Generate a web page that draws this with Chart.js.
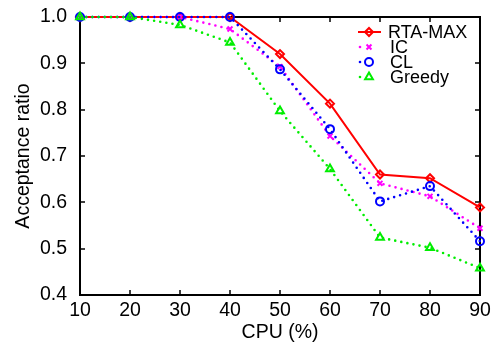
<!DOCTYPE html>
<html>
<head>
<meta charset="utf-8">
<script src="https://cdn.jsdelivr.net/npm/chart.js@4.4.1/dist/chart.umd.min.js"></script>
<style>
  html, body { margin: 0; padding: 0; background: #fff; }
</style>
</head>
<body>
<canvas id="grafico" width="492" height="345"></canvas>
<script>
// valores
const cpu = [10, 20, 30, 40, 50, 60, 70, 80, 90];
const rtaMax = [1.0, 1.0, 1.0, 1.0, 0.92, 0.813, 0.66, 0.652, 0.589];
const ic = [1.0, 1.0, 1.0, 0.974, 0.893, 0.743, 0.641, 0.613, 0.544];
const cl = [1.0, 1.0, 1.0, 1.0, 0.887, 0.758, 0.602, 0.635, 0.516];
const greedy = [1.0, 1.0, 0.983, 0.945, 0.797, 0.672, 0.524, 0.502, 0.458];
const nomes = ['RTA-MAX', 'IC', 'CL', 'Greedy'];

const fonte = "'Liberation Sans', Arial, sans-serif";

function pontos(valores) {
    return cpu.map((c, i) => ({ x: c, y: valores[i] }));
}

function serie(label, valores, cor, estilo, raio, pontilhado, ordem) {
    return {
        label: label,
        data: pontos(valores),
        borderColor: cor,
        backgroundColor: 'rgba(0,0,0,0)',
        pointBackgroundColor: 'rgba(0,0,0,0)',
        pointBorderColor: cor,
        pointStyle: estilo,
        pointRadius: raio,
        pointBorderWidth: 2,
        borderWidth: pontilhado ? 2.6 : 2,
        borderDash: pontilhado ? [0, 6.2] : [],
        borderCapStyle: pontilhado ? 'round' : 'butt',
        tension: 0,
        clip: false,
        order: ordem
    };
}

// moldura com marcas para dentro (estilo matlab)
const moldura = {
    id: 'moldura',
    beforeDatasetsDraw(chart) {
        const ctx = chart.ctx;
        const a = chart.chartArea;
        const x = chart.scales.x;
        const y = chart.scales.y;
        ctx.save();
        ctx.strokeStyle = '#000';
        ctx.lineWidth = 2;
        ctx.beginPath();
        ctx.moveTo(a.left, a.top);
        ctx.lineTo(a.right, a.top);
        ctx.lineTo(a.right, a.bottom);
        ctx.stroke();
        ctx.lineWidth = 1.5;
        ctx.beginPath();
        x.ticks.forEach(t => {
            const px = Math.round(x.getPixelForValue(t.value));
            ctx.moveTo(px, a.bottom); ctx.lineTo(px, a.bottom - 5);
            ctx.moveTo(px, a.top); ctx.lineTo(px, a.top + 5);
        });
        y.ticks.forEach(t => {
            const py = Math.round(y.getPixelForValue(t.value));
            ctx.moveTo(a.left, py); ctx.lineTo(a.left + 5, py);
            ctx.moveTo(a.right, py); ctx.lineTo(a.right - 5, py);
        });
        ctx.stroke();
        ctx.restore();
    }
};

// legenda dentro da área do gráfico
const legendaInterna = {
    id: 'legendaInterna',
    afterDraw(chart) {
        const ctx = chart.ctx;
        chart.data.datasets.forEach((ds, i) => {
            const y = 32 + i * 15;
            ctx.save();
            ctx.strokeStyle = ds.borderColor;
            ctx.fillStyle = ds.borderColor;
            if (ds.borderDash.length) {
                ctx.beginPath();
                ctx.arc(360, y, ds.borderWidth / 2, 0, Math.PI * 2);
                ctx.fill();
            } else {
                ctx.lineWidth = ds.borderWidth;
                ctx.beginPath();
                ctx.moveTo(358, y);
                ctx.lineTo(381, y);
                ctx.stroke();
            }
            ctx.fillStyle = 'rgba(0,0,0,0)';
            ctx.lineWidth = ds.pointBorderWidth;
            if (Chart.helpers && Chart.helpers.drawPoint) {
                Chart.helpers.drawPoint(ctx, {
                    pointStyle: ds.pointStyle,
                    radius: ds.pointRadius,
                    borderWidth: ds.pointBorderWidth,
                    rotation: 0
                }, 369, y);
            }
            ctx.fillStyle = '#000';
            ctx.font = '18px ' + fonte;
            ctx.textBaseline = 'middle';
            ctx.textAlign = 'left';
            ctx.fillText(ds.label, i === 0 ? 388 : 390, y + 1);
            ctx.restore();
        });
    }
};

const ctxGrafico = document.getElementById('grafico').getContext('2d');
const grafico = new Chart(ctxGrafico, {
    type: 'line',
    data: {
        datasets: [
            serie(nomes[0], rtaMax, '#ff0000', 'rectRot', 4, false, 4),
            serie(nomes[1], ic, '#ff00ff', 'crossRot', 3.5, true, 3),
            serie(nomes[2], cl, '#0000ff', 'circle', 4, true, 2),
            serie(nomes[3], greedy, '#00ee00', 'triangle', 4.5, true, 1)
        ]
    },
    plugins: [moldura, legendaInterna],
    options: {
        responsive: false,
        animation: false,
        devicePixelRatio: 1,
        layout: { padding: { top: 17, right: 12, left: 0, bottom: 0 } },
        plugins: {
            legend: { display: false },
            tooltip: { enabled: false }
        },
        scales: {
            x: {
                type: 'linear',
                min: 10,
                max: 90,
                ticks: {
                    stepSize: 10,
                    color: '#000',
                    font: { family: fonte, size: 19.5 },
                    padding: -4,
                    maxRotation: 0
                },
                grid: { display: false },
                border: { display: true, color: '#000', width: 2 },
                title: {
                    display: true,
                    text: 'CPU (%)',
                    color: '#000',
                    font: { family: fonte, size: 19.5 },
                    padding: { top: 0, bottom: 1 }
                },
                afterFit(scale) { scale.height = 50; }
            },
            y: {
                min: 0.4,
                max: 1.0,
                ticks: {
                    stepSize: 0.1,
                    color: '#000',
                    font: { family: fonte, size: 19.5 },
                    padding: 5,
                    callback: v => v.toFixed(1)
                },
                grid: { display: false },
                border: { display: true, color: '#000', width: 2 },
                title: {
                    display: true,
                    text: 'Acceptance ratio',
                    color: '#000',
                    font: { family: fonte, size: 19.5 },
                    padding: { top: 12, bottom: 0 }
                },
                afterFit(scale) { scale.width = 80; }
            }
        }
    }
});
</script>
</body>
</html>
